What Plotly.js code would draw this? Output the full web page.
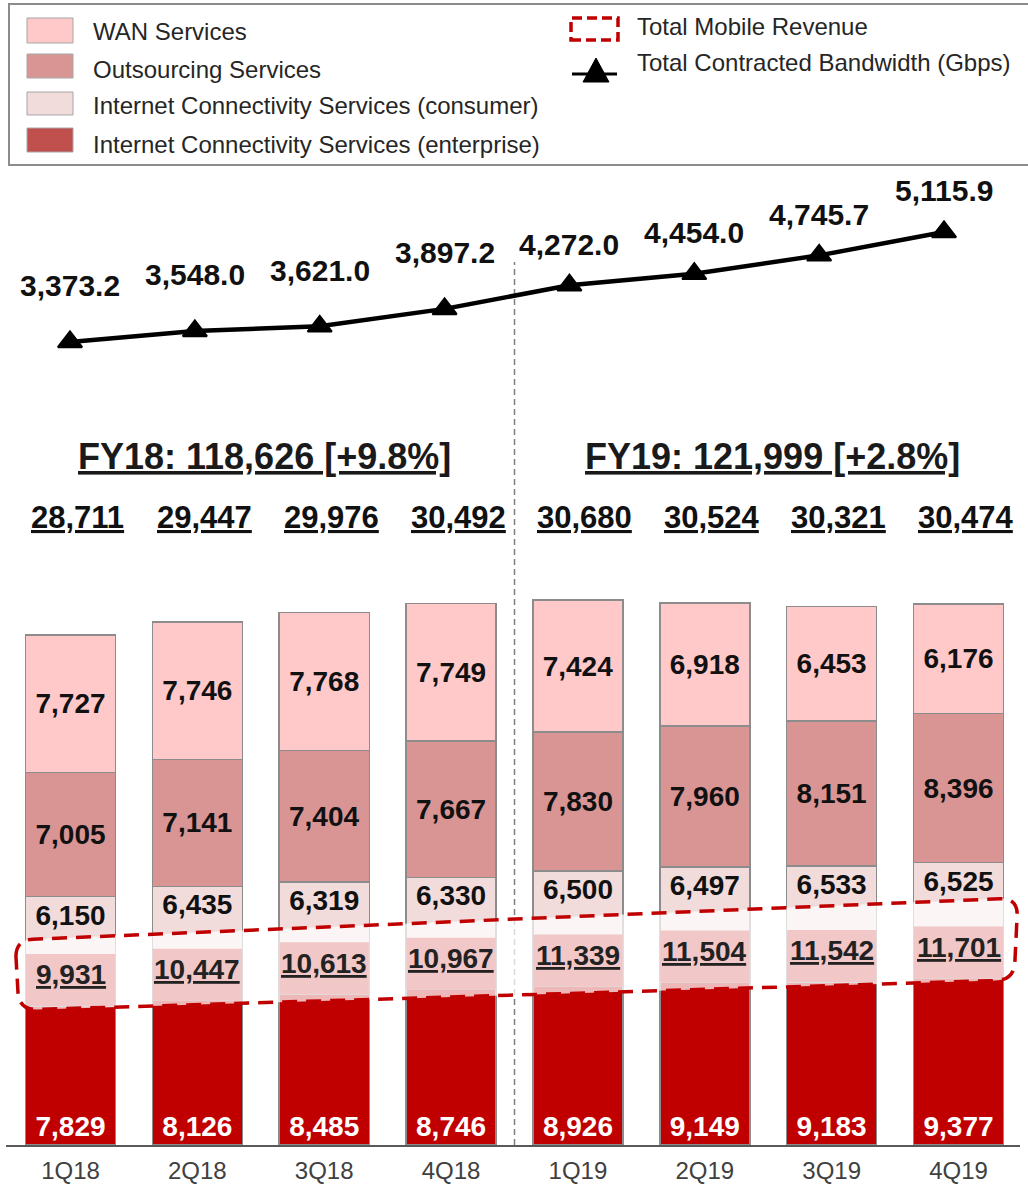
<!DOCTYPE html>
<html>
<head>
<meta charset="utf-8">
<script src="https://cdn.plot.ly/plotly-3.0.1.min.js"></script>
<style>
  html, body { margin: 0; padding: 0; background: #ffffff; }
  #chart { width: 1028px; height: 1184px; }
</style>
</head>
<body>
<div id="chart"></div>
<script>
// ---------------- DATA ----------------
const quarters = ['1Q18', '2Q18', '3Q18', '4Q18', '1Q19', '2Q19', '3Q19', '4Q19'];
const enterprise = [7829, 8126, 8485, 8746, 8926, 9149, 9183, 9377];
const consumer = [6150, 6435, 6319, 6330, 6500, 6497, 6533, 6525];
const outsourcing = [7005, 7141, 7404, 7667, 7830, 7960, 8151, 8396];
const wan = [7727, 7746, 7768, 7749, 7424, 6918, 6453, 6176];
const totals = [28711, 29447, 29976, 30492, 30680, 30524, 30321, 30474];
const mobileRevenue = [9931, 10447, 10613, 10967, 11339, 11504, 11542, 11701];
const bandwidth = [3373.2, 3548.0, 3621.0, 3897.2, 4272.0, 4454.0, 4745.7, 5115.9];
const fiscalYearLabels = ['FY18: 118,626 [+9.8%]', 'FY19: 121,999 [+2.8%]'];
const seriesNames = ['WAN Services', 'Outsourcing Services',
  'Internet Connectivity Services (consumer)', 'Internet Connectivity Services (enterprise)'];
const extraLegendNames = ['Total Mobile Revenue', 'Total Contracted Bandwidth (Gbps)'];

// ---------------- STYLE / GEOMETRY ----------------
const FONT = 'Liberation Sans, Arial, Helvetica, sans-serif';
const W = 1028, H = 1184, ML = 6, MR = 8, MT = 0, MB = 39;
const plotW = W - ML - MR, plotH = H - MT - MB;
const px2x = px => (px - ML) / plotW;
const py2y = py => (H - MB - py) / plotH;
const fmt0 = v => v.toLocaleString('en-US');
const fmt1 = v => v.toLocaleString('en-US', { minimumFractionDigits: 1, maximumFractionDigits: 1 });

const colors = {
  wan: '#ffc9c9', out: '#d99594', cons: '#f2dcdb', ent: '#c00000', entLegend: '#c0504d',
  pinkBox: '#f2c7c7', red: '#c00000'
};

function barTrace(vals, name, color, textColor, anchor) {
  return {
    type: 'bar', x: quarters, y: vals, name: name,
    marker: { color: color, line: { color: '#8c8c8c', width: 1.5 } },
    texttemplate: '<b>%{y:,}</b>', textposition: 'inside', insidetextanchor: anchor,
    textangle: 0, constraintext: 'none',
    textfont: { family: FONT, size: 28, color: textColor },
    hoverinfo: 'skip', showlegend: false
  };
}

const traces = [
  barTrace(enterprise, seriesNames[3], colors.ent, '#ffffff', 'start'),
  barTrace(consumer, seriesNames[2], colors.cons, '#111111', 'end'),
  barTrace(outsourcing, seriesNames[1], colors.out, '#111111', 'middle'),
  barTrace(wan, seriesNames[0], colors.wan, '#111111', 'middle'),
  {
    type: 'scatter', mode: 'lines+markers', x: quarters, y: bandwidth,
    name: extraLegendNames[1], xaxis: 'x2', yaxis: 'y2',
    line: { color: '#000000', width: 4.5 },
    marker: { symbol: 'triangle-up', size: 21, color: '#000000', line: { color: '#000000', width: 2 } },
    cliponaxis: false, hoverinfo: 'skip', showlegend: false
  }
];

// ---------------- SHAPES ----------------
const shapes = [];
// legend frame
shapes.push({ type: 'rect', xref: 'paper', yref: 'paper',
  x0: px2x(9), x1: px2x(1040), y0: py2y(165), y1: py2y(4),
  line: { color: '#8c8c8c', width: 2 }, fillcolor: 'rgba(0,0,0,0)' });
// legend swatches
const swatchY = [[18, 43], [54, 78], [92, 115], [128, 152]];
const swatchColors = [colors.wan, colors.out, colors.cons, colors.entLegend];
swatchY.forEach((s, k) => {
  shapes.push({ type: 'rect', xref: 'paper', yref: 'paper',
    x0: px2x(27), x1: px2x(73), y0: py2y(s[1]), y1: py2y(s[0]),
    fillcolor: swatchColors[k], line: { color: '#a6a6a6', width: 1 } });
});
// mobile revenue legend symbol
shapes.push({ type: 'rect', xref: 'paper', yref: 'paper',
  x0: px2x(571), x1: px2x(618), y0: py2y(40), y1: py2y(18),
  line: { color: colors.red, width: 3.5, dash: '10px,5px' }, fillcolor: 'rgba(0,0,0,0)' });
// bandwidth legend symbol
shapes.push({ type: 'line', xref: 'paper', yref: 'paper',
  x0: px2x(572), x1: px2x(617), y0: py2y(74), y1: py2y(74),
  line: { color: '#000', width: 3 } });
shapes.push({ type: 'path', xref: 'paper', yref: 'paper',
  path: 'M' + px2x(583) + ',' + py2y(82) + ' L' + px2x(609) + ',' + py2y(82) + ' L' + px2x(596) + ',' + py2y(58) + ' Z',
  fillcolor: '#000', line: { color: '#000', width: 1 } });
// FY divider
shapes.push({ type: 'line', xref: 'x', yref: 'paper', x0: 3.5, x1: 3.5, y0: 0, y1: py2y(262),
  line: { color: '#7f7f7f', width: 1.5, dash: '6px,4px' }, layer: 'below' });

// rounded tilted box for mobile revenue
function roundedPath(pts, r) {
  const n = pts.length; let d = '';
  const f = p => px2x(p[0]).toFixed(5) + ',' + py2y(p[1]).toFixed(5);
  for (let k = 0; k < n; k++) {
    const P = pts[k], A = pts[(k - 1 + n) % n], B = pts[(k + 1) % n];
    const la = Math.hypot(A[0] - P[0], A[1] - P[1]), lb = Math.hypot(B[0] - P[0], B[1] - P[1]);
    const p1 = [P[0] + (A[0] - P[0]) / la * r, P[1] + (A[1] - P[1]) / la * r];
    const p2 = [P[0] + (B[0] - P[0]) / lb * r, P[1] + (B[1] - P[1]) / lb * r];
    d += (k === 0 ? 'M' : 'L') + f(p1) + ' Q' + f(P) + ' ' + f(p2) + ' ';
  }
  return d + 'Z';
}
const boxPath = roundedPath([[15, 940], [1018, 898], [1014, 980], [19, 1010]], 18);
shapes.push({ type: 'path', xref: 'paper', yref: 'paper', path: boxPath,
  fillcolor: 'rgba(255,255,255,0.72)', line: { width: 0 } });
mobileRevenue.forEach((v, i) => {
  shapes.push({ type: 'rect', xref: 'x', yref: 'y', x0: i - 0.352, x1: i + 0.352,
    ysizemode: 'pixel', yanchor: enterprise[i], y0: 0, y1: 52,
    fillcolor: colors.pinkBox, line: { width: 0 } });
});
shapes.push({ type: 'path', xref: 'paper', yref: 'paper', path: boxPath,
  fillcolor: 'rgba(0,0,0,0)', line: { color: colors.red, width: 3.5, dash: '15px,9px' } });

// ---------------- ANNOTATIONS ----------------
const annotations = [];
const legendTextY = [32, 69.5, 106, 144.5];
seriesNames.forEach((n, k) => {
  annotations.push({ xref: 'paper', yref: 'paper', x: px2x(91), y: py2y(legendTextY[k]),
    xanchor: 'left', yanchor: 'middle', showarrow: false, text: n,
    font: { family: FONT, size: 24, color: '#262626' } });
});
const extraLegendY = [27, 63];
extraLegendNames.forEach((n, k) => {
  annotations.push({ xref: 'paper', yref: 'paper', x: px2x(635), y: py2y(extraLegendY[k]),
    xanchor: 'left', yanchor: 'middle', showarrow: false, text: n,
    font: { family: FONT, size: 24, color: '#262626' } });
});
// bandwidth labels
bandwidth.forEach((v, i) => {
  annotations.push({ xref: 'x2', yref: 'y2', x: quarters[i], y: v, yshift: i < 4 ? 56 : 41,
    xanchor: 'center', yanchor: 'middle', showarrow: false, text: '<b>' + fmt1(v) + '</b>',
    font: { family: FONT, size: 30, color: '#111111' } });
});
// fiscal-year headers
fiscalYearLabels.forEach((t, k) => {
  annotations.push({ xref: 'x', yref: 'paper', x: k === 0 ? 1.5 : 5.5, xshift: 4, y: py2y(456),
    xanchor: 'center', yanchor: 'middle', showarrow: false, text: '<u><b>' + t + '</b></u>',
    font: { family: FONT, size: 36, color: '#1a1a1a' } });
});
// quarterly totals
totals.forEach((v, i) => {
  annotations.push({ xref: 'x', yref: 'paper', x: quarters[i], xshift: 7, y: py2y(517),
    xanchor: 'center', yanchor: 'middle', showarrow: false, text: '<u><b>' + fmt0(v) + '</b></u>',
    font: { family: FONT, size: 31, color: '#111111' } });
});
// mobile revenue labels
mobileRevenue.forEach((v, i) => {
  annotations.push({ xref: 'x', yref: 'y', x: quarters[i], y: enterprise[i], yshift: 31,
    xanchor: 'center', yanchor: 'middle', showarrow: false, text: '<u><b>' + fmt0(v) + '</b></u>',
    font: { family: FONT, size: 28, color: '#222222' } });
});

// ---------------- LAYOUT ----------------
const layout = {
  width: W, height: H,
  margin: { l: ML, r: MR, t: MT, b: MB, pad: 0 },
  paper_bgcolor: '#ffffff', plot_bgcolor: '#ffffff',
  barmode: 'stack', bargap: 0.29,
  showlegend: false,
  font: { family: FONT },
  xaxis: {
    type: 'category', range: [-0.5084, 7.4847], fixedrange: true,
    showline: true, linecolor: '#595959', linewidth: 2, ticks: '',
    ticklabelstandoff: 3,
    showgrid: false, zeroline: false,
    tickfont: { family: FONT, size: 24, color: '#404040' }
  },
  yaxis: { range: [0, 64470], visible: false, showgrid: false, zeroline: false, fixedrange: true },
  xaxis2: { type: 'category', overlaying: 'x', anchor: 'y2', range: [-0.5126, 7.6086],
    visible: false, fixedrange: true },
  yaxis2: { overlaying: 'y', anchor: 'x2', range: [-9349, 8791], visible: false,
    showgrid: false, zeroline: false, fixedrange: true },
  shapes: shapes,
  annotations: annotations
};

Plotly.newPlot('chart', traces, layout, { staticPlot: true, displayModeBar: false });
</script>
</body>
</html>
